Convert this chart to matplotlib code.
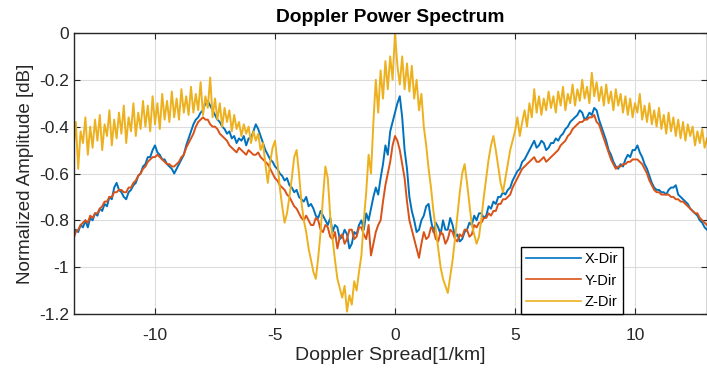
import numpy as np
import matplotlib
matplotlib.use("Agg")
import matplotlib.pyplot as plt

# ---------------- data ----------------
TITLE = "Doppler Power Spectrum"
XLABEL = "Doppler Spread[1/km]"
YLABEL = "Normalized Amplitude [dB]"
SERIES_NAMES = ["X-Dir", "Y-Dir", "Z-Dir"]
X_TICKS = [-10, -5, 0, 5, 10]
X_TICK_LABELS = ["-10", "-5", "0", "5", "10"]
Y_TICKS = [0, -0.2, -0.4, -0.6, -0.8, -1.0, -1.2]
Y_TICK_LABELS = ["0", "-0.2", "-0.4", "-0.6", "-0.8", "-1", "-1.2"]

# all series sampled every 0.1 from -13.4 to 13.0
spread = np.round(np.arange(-13.4, 13.0 + 1e-9, 0.1), 2)

x_dir = [
    -0.87, -0.84, -0.85, -0.82, -0.83, -0.80, -0.83, -0.79, -0.80, -0.77,   # -13.4
    -0.78, -0.75, -0.76, -0.73, -0.74, -0.70, -0.71, -0.66, -0.64, -0.67,   # -12.4
    -0.68, -0.70, -0.71, -0.68, -0.67, -0.65, -0.64, -0.61, -0.60, -0.57,   # -11.4
    -0.56, -0.53, -0.53, -0.50, -0.48, -0.51, -0.52, -0.54, -0.54, -0.56,   # -10.4
    -0.57, -0.58, -0.60, -0.58, -0.56, -0.54, -0.52, -0.48, -0.45, -0.42,   # -9.4
    -0.39, -0.37, -0.36, -0.34, -0.33, -0.30, -0.29, -0.31, -0.33, -0.35,   # -8.4
    -0.37, -0.38, -0.40, -0.41, -0.43, -0.42, -0.45, -0.44, -0.47, -0.45,   # -7.4
    -0.46, -0.44, -0.48, -0.45, -0.45, -0.42, -0.39, -0.41, -0.44, -0.47,   # -6.4
    -0.50, -0.52, -0.54, -0.55, -0.57, -0.58, -0.60, -0.61, -0.63, -0.62,   # -5.4
    -0.65, -0.66, -0.68, -0.67, -0.70, -0.71, -0.72, -0.70, -0.74, -0.73,   # -4.4
    -0.75, -0.78, -0.79, -0.76, -0.78, -0.80, -0.82, -0.79, -0.85, -0.82,   # -3.4
    -0.83, -0.88, -0.87, -0.84, -0.86, -0.92, -0.90, -0.85, -0.86, -0.82,   # -2.4
    -0.80, -0.84, -0.77, -0.80, -0.75, -0.70, -0.66, -0.69, -0.62, -0.56,   # -1.4
    -0.48, -0.52, -0.42, -0.38, -0.34, -0.30, -0.27, -0.36, -0.50, -0.58,   # -0.4
    -0.70, -0.76, -0.80, -0.85, -0.84, -0.80, -0.78, -0.74, -0.73, -0.80,   # 0.6
    -0.85, -0.81, -0.83, -0.86, -0.80, -0.84, -0.84, -0.79, -0.82, -0.87,   # 1.6
    -0.86, -0.89, -0.88, -0.85, -0.84, -0.81, -0.82, -0.78, -0.80, -0.77,   # 2.6
    -0.77, -0.79, -0.78, -0.74, -0.75, -0.72, -0.73, -0.70, -0.70, -0.68,   # 3.6
    -0.69, -0.67, -0.66, -0.63, -0.61, -0.59, -0.58, -0.55, -0.54, -0.52,   # 4.6
    -0.50, -0.48, -0.46, -0.49, -0.48, -0.46, -0.47, -0.50, -0.49, -0.47,   # 5.6
    -0.47, -0.45, -0.46, -0.44, -0.43, -0.41, -0.40, -0.38, -0.37, -0.36,   # 6.6
    -0.35, -0.33, -0.34, -0.37, -0.36, -0.34, -0.35, -0.32, -0.33, -0.37,   # 7.6
    -0.40, -0.43, -0.46, -0.50, -0.52, -0.55, -0.57, -0.58, -0.56, -0.57,   # 8.6
    -0.54, -0.52, -0.53, -0.50, -0.50, -0.48, -0.51, -0.53, -0.56, -0.58,   # 9.6
    -0.61, -0.64, -0.66, -0.67, -0.67, -0.68, -0.68, -0.69, -0.67, -0.66,   # 10.6
    -0.66, -0.65, -0.69, -0.70, -0.71, -0.72, -0.73, -0.75, -0.76, -0.77,   # 11.6
    -0.78, -0.80, -0.81, -0.83, -0.84,                                      # 12.6
]

y_dir = [
    -0.88, -0.85, -0.84, -0.82, -0.81, -0.80, -0.81, -0.78, -0.79, -0.77,   # -13.4
    -0.77, -0.75, -0.74, -0.72, -0.72, -0.70, -0.70, -0.68, -0.68, -0.67,   # -12.4
    -0.67, -0.68, -0.68, -0.66, -0.66, -0.64, -0.63, -0.61, -0.60, -0.58,   # -11.4
    -0.57, -0.55, -0.54, -0.53, -0.53, -0.52, -0.53, -0.54, -0.55, -0.56,   # -10.4
    -0.56, -0.57, -0.57, -0.56, -0.55, -0.53, -0.52, -0.49, -0.47, -0.45,   # -9.4
    -0.43, -0.40, -0.38, -0.37, -0.36, -0.37, -0.37, -0.39, -0.40, -0.40,   # -8.4
    -0.41, -0.43, -0.44, -0.45, -0.46, -0.48, -0.49, -0.50, -0.51, -0.49,   # -7.4
    -0.50, -0.51, -0.52, -0.50, -0.51, -0.52, -0.52, -0.51, -0.53, -0.54,   # -6.4
    -0.55, -0.56, -0.58, -0.60, -0.62, -0.63, -0.65, -0.66, -0.67, -0.69,   # -5.4
    -0.70, -0.72, -0.74, -0.75, -0.77, -0.79, -0.80, -0.78, -0.80, -0.82,   # -4.4
    -0.82, -0.79, -0.80, -0.84, -0.85, -0.82, -0.83, -0.87, -0.88, -0.85,   # -3.4
    -0.92, -0.87, -0.86, -0.90, -0.88, -0.84, -0.84, -0.88, -0.87, -0.83,   # -2.4
    -0.83, -0.86, -0.88, -0.82, -0.95, -0.90, -0.85, -0.82, -0.80, -0.72,   # -1.4
    -0.65, -0.60, -0.55, -0.48, -0.44, -0.46, -0.50, -0.56, -0.62, -0.72,   # -0.4
    -0.80, -0.84, -0.88, -0.92, -0.96, -0.90, -0.85, -0.88, -0.87, -0.83,   # 0.6
    -0.84, -0.88, -0.89, -0.85, -0.86, -0.90, -0.88, -0.84, -0.85, -0.88,   # 1.6
    -0.89, -0.86, -0.87, -0.84, -0.84, -0.87, -0.86, -0.82, -0.83, -0.81,   # 2.6
    -0.81, -0.79, -0.79, -0.77, -0.78, -0.76, -0.76, -0.73, -0.73, -0.71,   # 3.6
    -0.71, -0.70, -0.69, -0.66, -0.64, -0.62, -0.60, -0.58, -0.57, -0.56,   # 4.6
    -0.55, -0.54, -0.53, -0.55, -0.55, -0.54, -0.53, -0.55, -0.54, -0.53,   # 5.6
    -0.52, -0.51, -0.50, -0.48, -0.47, -0.46, -0.44, -0.43, -0.41, -0.40,   # 6.6
    -0.39, -0.38, -0.38, -0.37, -0.37, -0.36, -0.36, -0.35, -0.38, -0.39,   # 7.6
    -0.42, -0.45, -0.48, -0.51, -0.54, -0.56, -0.58, -0.57, -0.57, -0.56,   # 8.6
    -0.56, -0.55, -0.55, -0.54, -0.54, -0.54, -0.55, -0.56, -0.58, -0.60,   # 9.6
    -0.63, -0.65, -0.67, -0.68, -0.68, -0.69, -0.69, -0.69, -0.69, -0.70,   # 10.6
    -0.70, -0.71, -0.71, -0.72, -0.72, -0.73, -0.74, -0.75, -0.76, -0.77,   # 11.6
    -0.77, -0.79, -0.80, -0.81, -0.82,                                      # 12.6
]

z_dir = [
    -0.50, -0.38, -0.58, -0.42, -0.47, -0.36, -0.52, -0.40, -0.49, -0.37,   # -13.4
    -0.46, -0.35, -0.50, -0.39, -0.44, -0.33, -0.48, -0.37, -0.45, -0.34,   # -12.4
    -0.43, -0.31, -0.47, -0.36, -0.42, -0.30, -0.44, -0.34, -0.41, -0.29,   # -11.4
    -0.40, -0.31, -0.42, -0.27, -0.39, -0.30, -0.41, -0.26, -0.37, -0.29,   # -10.4
    -0.38, -0.25, -0.36, -0.28, -0.37, -0.24, -0.34, -0.27, -0.35, -0.23,   # -9.4
    -0.34, -0.26, -0.33, -0.21, -0.35, -0.27, -0.32, -0.19, -0.36, -0.28,   # -8.4
    -0.37, -0.30, -0.40, -0.32, -0.38, -0.33, -0.42, -0.35, -0.41, -0.38,   # -7.4
    -0.44, -0.39, -0.43, -0.40, -0.47, -0.42, -0.46, -0.43, -0.50, -0.47,   # -6.4
    -0.56, -0.64, -0.55, -0.49, -0.46, -0.55, -0.66, -0.74, -0.81, -0.77,   # -5.4
    -0.70, -0.62, -0.53, -0.50, -0.60, -0.72, -0.80, -0.85, -0.92, -0.97,   # -4.4
    -1.02, -1.05, -0.96, -0.85, -0.70, -0.57, -0.62, -0.78, -0.88, -0.97,   # -3.4
    -1.05, -1.09, -1.13, -1.08, -1.19, -1.12, -1.16, -1.06, -1.10, -1.02,   # -2.4
    -0.95, -0.80, -0.68, -0.52, -0.60, -0.38, -0.20, -0.34, -0.16, -0.28,   # -1.4
    -0.12, -0.24, -0.10, -0.20, 0.00, -0.14, -0.22, -0.10, -0.24, -0.13,    # -0.4
    -0.25, -0.14, -0.28, -0.20, -0.33, -0.26, -0.40, -0.48, -0.58, -0.66,   # 0.6
    -0.76, -0.84, -0.92, -1.00, -1.05, -1.08, -1.11, -1.04, -0.97, -0.88,   # 1.6
    -0.78, -0.68, -0.60, -0.56, -0.64, -0.73, -0.82, -0.86, -0.90, -0.87,   # 2.6
    -0.79, -0.70, -0.62, -0.54, -0.48, -0.44, -0.50, -0.57, -0.64, -0.68,   # 3.6
    -0.62, -0.56, -0.50, -0.46, -0.42, -0.36, -0.44, -0.38, -0.33, -0.40,   # 4.6
    -0.30, -0.36, -0.24, -0.34, -0.27, -0.35, -0.28, -0.33, -0.25, -0.32,   # 5.6
    -0.27, -0.34, -0.25, -0.31, -0.23, -0.33, -0.26, -0.30, -0.22, -0.31,   # 6.6
    -0.24, -0.29, -0.20, -0.28, -0.23, -0.30, -0.17, -0.27, -0.21, -0.29,   # 7.6
    -0.23, -0.31, -0.22, -0.30, -0.25, -0.33, -0.24, -0.31, -0.26, -0.34,   # 8.6
    -0.27, -0.35, -0.28, -0.36, -0.30, -0.34, -0.26, -0.37, -0.31, -0.38,   # 9.6
    -0.30, -0.39, -0.33, -0.40, -0.32, -0.41, -0.35, -0.43, -0.34, -0.42,   # 10.6
    -0.36, -0.44, -0.37, -0.45, -0.38, -0.46, -0.39, -0.44, -0.40, -0.48,   # 11.6
    -0.42, -0.47, -0.41, -0.49, -0.45,                                      # 12.6
]

COLORS = ["#0072BD", "#D95319", "#EDB120"]

# ---------------- figure ----------------
plt.rcParams["font.family"] = ["Liberation Sans", "DejaVu Sans"]
fig = plt.figure(figsize=(7.07, 3.70), dpi=100)
ax = fig.add_axes([74 / 707, 1 - 314 / 370, 1 - 74 / 707, (314 - 33) / 370])

ax.plot(spread, x_dir, color=COLORS[0], lw=1.4, label=SERIES_NAMES[0])
ax.plot(spread, y_dir, color=COLORS[1], lw=1.4, label=SERIES_NAMES[1])
ax.plot(spread, z_dir, color=COLORS[2], lw=1.4, label=SERIES_NAMES[2])

ax.set_xlim(-13.375, 13.0)
ax.set_ylim(-1.2, 0)
ax.set_xticks(X_TICKS)
ax.set_xticklabels(X_TICK_LABELS)
ax.set_yticks(Y_TICKS)
ax.set_yticklabels(Y_TICK_LABELS)
ax.tick_params(direction="in", length=4, labelsize=12.5, colors="#262626",
               top=True, right=True)
ax.tick_params(axis="x", pad=10)
ax.grid(True, color="#dcdcdc", lw=0.8)
ax.set_axisbelow(True)
for s in ax.spines.values():
    s.set_color("#262626")
    s.set_linewidth(1.0)

ax.set_title(TITLE, fontsize=13.8, fontweight="bold", pad=8)
ax.set_xlabel(XLABEL, fontsize=14, color="#262626", labelpad=3)
ax.set_ylabel(YLABEL, fontsize=13.5, color="#262626", labelpad=4)

leg = ax.legend(loc="lower left", bbox_to_anchor=(0.706, 0.0), fontsize=10.5,
                fancybox=False, framealpha=1, edgecolor="black",
                handlelength=3.8, borderpad=0.35, labelspacing=0.5,
                handletextpad=0.2, borderaxespad=0)
leg.get_frame().set_linewidth(1.0)
for line in leg.get_lines():
    line.set_linewidth(1.2)

fig.savefig("out.png", dpi=100)
